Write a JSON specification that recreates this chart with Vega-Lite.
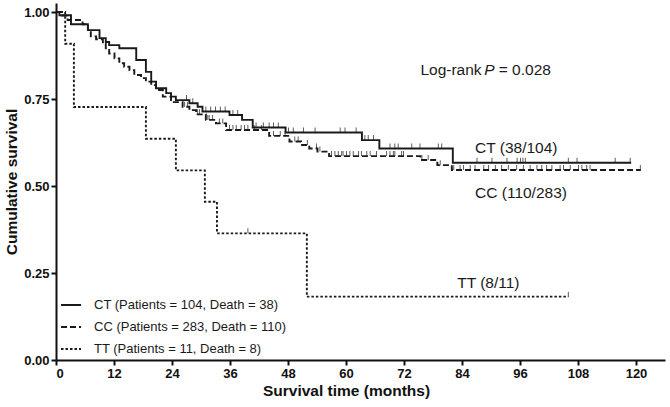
{
  "$schema": "https://vega.github.io/schema/vega-lite/v6.json",
  "width": 609,
  "height": 357,
  "autosize": {"type": "none"},
  "padding": {"left": 56, "top": 3, "right": 5, "bottom": 47},
  "background": "white",
  "config": {
    "view": {"stroke": null},
    "font": "Liberation Sans",
    "axis": {
      "grid": false,
      "domainColor": "#111",
      "domainWidth": 2,
      "tickColor": "#111",
      "tickWidth": 2,
      "tickSize": 5,
      "labelFont": "Liberation Sans",
      "labelFontWeight": "bold",
      "labelFontSize": 13,
      "labelColor": "#111",
      "titleFont": "Liberation Sans",
      "titleFontWeight": "bold",
      "titleFontSize": 15.5,
      "titleColor": "#111"
    }
  },
  "datasets": {
    "steps": [
      {"group": "CT", "t": 0, "s": 1.0},
      {"group": "CT", "t": 0.7, "s": 0.991},
      {"group": "CT", "t": 3.1, "s": 0.965},
      {"group": "CT", "t": 6.6, "s": 0.948},
      {"group": "CT", "t": 9.0, "s": 0.925},
      {"group": "CT", "t": 10.3, "s": 0.914},
      {"group": "CT", "t": 11.0, "s": 0.905},
      {"group": "CT", "t": 13.1, "s": 0.896},
      {"group": "CT", "t": 16.6, "s": 0.862},
      {"group": "CT", "t": 18.6, "s": 0.828},
      {"group": "CT", "t": 19.7, "s": 0.8},
      {"group": "CT", "t": 20.7, "s": 0.781},
      {"group": "CT", "t": 22.8, "s": 0.767},
      {"group": "CT", "t": 23.8, "s": 0.757},
      {"group": "CT", "t": 24.8, "s": 0.747},
      {"group": "CT", "t": 27.6, "s": 0.738},
      {"group": "CT", "t": 29.3, "s": 0.728},
      {"group": "CT", "t": 30.3, "s": 0.714},
      {"group": "CT", "t": 35.9, "s": 0.704},
      {"group": "CT", "t": 38.5, "s": 0.69},
      {"group": "CT", "t": 40.7, "s": 0.668},
      {"group": "CT", "t": 47.5, "s": 0.654},
      {"group": "CT", "t": 63.3, "s": 0.632},
      {"group": "CT", "t": 66.9, "s": 0.608},
      {"group": "CT", "t": 82.1, "s": 0.567},
      {"group": "CT", "t": 119, "s": 0.567},
      {"group": "CC", "t": 0, "s": 1.0},
      {"group": "CC", "t": 1.2, "s": 0.99},
      {"group": "CC", "t": 2.4, "s": 0.977},
      {"group": "CC", "t": 5.5, "s": 0.965},
      {"group": "CC", "t": 6.6, "s": 0.948},
      {"group": "CC", "t": 7.2, "s": 0.93},
      {"group": "CC", "t": 8.3, "s": 0.922},
      {"group": "CC", "t": 9.7, "s": 0.91},
      {"group": "CC", "t": 10.3, "s": 0.896},
      {"group": "CC", "t": 11.0, "s": 0.881},
      {"group": "CC", "t": 12.1, "s": 0.867},
      {"group": "CC", "t": 13.1, "s": 0.853},
      {"group": "CC", "t": 14.1, "s": 0.843},
      {"group": "CC", "t": 15.2, "s": 0.833},
      {"group": "CC", "t": 16.2, "s": 0.819},
      {"group": "CC", "t": 17.6, "s": 0.81},
      {"group": "CC", "t": 18.6, "s": 0.8},
      {"group": "CC", "t": 19.7, "s": 0.79},
      {"group": "CC", "t": 20.7, "s": 0.776},
      {"group": "CC", "t": 22.1, "s": 0.757},
      {"group": "CC", "t": 23.8, "s": 0.741},
      {"group": "CC", "t": 26.2, "s": 0.728},
      {"group": "CC", "t": 27.6, "s": 0.718},
      {"group": "CC", "t": 29.0, "s": 0.706},
      {"group": "CC", "t": 31.0, "s": 0.69},
      {"group": "CC", "t": 33.1, "s": 0.68},
      {"group": "CC", "t": 35.2, "s": 0.661},
      {"group": "CC", "t": 44.1, "s": 0.644},
      {"group": "CC", "t": 48.3, "s": 0.628},
      {"group": "CC", "t": 50.7, "s": 0.618},
      {"group": "CC", "t": 52.4, "s": 0.608},
      {"group": "CC", "t": 54.1, "s": 0.599},
      {"group": "CC", "t": 56.5, "s": 0.586},
      {"group": "CC", "t": 75.4, "s": 0.575},
      {"group": "CC", "t": 78.9, "s": 0.56},
      {"group": "CC", "t": 81.9, "s": 0.546},
      {"group": "CC", "t": 121, "s": 0.546},
      {"group": "TT", "t": 0, "s": 1.0},
      {"group": "TT", "t": 1.9, "s": 0.909},
      {"group": "TT", "t": 3.7, "s": 0.727},
      {"group": "TT", "t": 18.6, "s": 0.636},
      {"group": "TT", "t": 24.8, "s": 0.545},
      {"group": "TT", "t": 30.8, "s": 0.455},
      {"group": "TT", "t": 33.3, "s": 0.364},
      {"group": "TT", "t": 51.9, "s": 0.182},
      {"group": "TT", "t": 106, "s": 0.182}
    ],
    "censor": [
      {"group": "CT", "t": 27.0, "s": 0.747},
      {"group": "CT", "t": 28.3, "s": 0.738},
      {"group": "CT", "t": 31.0, "s": 0.714},
      {"group": "CT", "t": 32.0, "s": 0.714},
      {"group": "CT", "t": 33.0, "s": 0.714},
      {"group": "CT", "t": 34.0, "s": 0.714},
      {"group": "CT", "t": 35.0, "s": 0.714},
      {"group": "CT", "t": 36.6, "s": 0.704},
      {"group": "CT", "t": 37.6, "s": 0.704},
      {"group": "CT", "t": 41.4, "s": 0.668},
      {"group": "CT", "t": 42.9, "s": 0.668},
      {"group": "CT", "t": 44.1, "s": 0.668},
      {"group": "CT", "t": 45.0, "s": 0.668},
      {"group": "CT", "t": 46.0, "s": 0.668},
      {"group": "CT", "t": 48.1, "s": 0.654},
      {"group": "CT", "t": 49.1, "s": 0.654},
      {"group": "CT", "t": 51.2, "s": 0.654},
      {"group": "CT", "t": 53.6, "s": 0.654},
      {"group": "CT", "t": 58.8, "s": 0.654},
      {"group": "CT", "t": 59.8, "s": 0.654},
      {"group": "CT", "t": 62.1, "s": 0.654},
      {"group": "CT", "t": 63.9, "s": 0.632},
      {"group": "CT", "t": 64.6, "s": 0.632},
      {"group": "CT", "t": 65.7, "s": 0.632},
      {"group": "CT", "t": 69.1, "s": 0.608},
      {"group": "CT", "t": 70.1, "s": 0.608},
      {"group": "CT", "t": 70.8, "s": 0.608},
      {"group": "CT", "t": 73.6, "s": 0.608},
      {"group": "CT", "t": 75.3, "s": 0.608},
      {"group": "CT", "t": 79.1, "s": 0.608},
      {"group": "CT", "t": 79.8, "s": 0.608},
      {"group": "CT", "t": 87.1, "s": 0.567},
      {"group": "CT", "t": 90.2, "s": 0.567},
      {"group": "CT", "t": 93.3, "s": 0.567},
      {"group": "CT", "t": 95.4, "s": 0.567},
      {"group": "CT", "t": 96.1, "s": 0.567},
      {"group": "CT", "t": 96.6, "s": 0.567},
      {"group": "CT", "t": 97.1, "s": 0.567},
      {"group": "CT", "t": 106, "s": 0.567},
      {"group": "CT", "t": 107.8, "s": 0.567},
      {"group": "CT", "t": 115.7, "s": 0.567},
      {"group": "CT", "t": 118.8, "s": 0.567},
      {"group": "CC", "t": 26.6, "s": 0.728},
      {"group": "CC", "t": 27.2, "s": 0.728},
      {"group": "CC", "t": 29.3, "s": 0.706},
      {"group": "CC", "t": 29.7, "s": 0.706},
      {"group": "CC", "t": 31.4, "s": 0.69},
      {"group": "CC", "t": 31.7, "s": 0.69},
      {"group": "CC", "t": 32.4, "s": 0.69},
      {"group": "CC", "t": 33.8, "s": 0.68},
      {"group": "CC", "t": 34.5, "s": 0.68},
      {"group": "CC", "t": 35.9, "s": 0.661},
      {"group": "CC", "t": 36.6, "s": 0.661},
      {"group": "CC", "t": 37.3, "s": 0.661},
      {"group": "CC", "t": 38.3, "s": 0.661},
      {"group": "CC", "t": 39.0, "s": 0.661},
      {"group": "CC", "t": 39.7, "s": 0.661},
      {"group": "CC", "t": 41.0, "s": 0.661},
      {"group": "CC", "t": 42.5, "s": 0.661},
      {"group": "CC", "t": 45.0, "s": 0.644},
      {"group": "CC", "t": 46.4, "s": 0.644},
      {"group": "CC", "t": 47.4, "s": 0.644},
      {"group": "CC", "t": 49.4, "s": 0.628},
      {"group": "CC", "t": 50.1, "s": 0.628},
      {"group": "CC", "t": 52.0, "s": 0.618},
      {"group": "CC", "t": 53.9, "s": 0.608},
      {"group": "CC", "t": 54.6, "s": 0.599},
      {"group": "CC", "t": 57.0, "s": 0.586},
      {"group": "CC", "t": 57.7, "s": 0.586},
      {"group": "CC", "t": 58.4, "s": 0.586},
      {"group": "CC", "t": 59.1, "s": 0.586},
      {"group": "CC", "t": 59.4, "s": 0.586},
      {"group": "CC", "t": 60.1, "s": 0.586},
      {"group": "CC", "t": 60.8, "s": 0.586},
      {"group": "CC", "t": 61.5, "s": 0.586},
      {"group": "CC", "t": 62.6, "s": 0.586},
      {"group": "CC", "t": 63.2, "s": 0.586},
      {"group": "CC", "t": 64.3, "s": 0.586},
      {"group": "CC", "t": 65.0, "s": 0.586},
      {"group": "CC", "t": 66.3, "s": 0.586},
      {"group": "CC", "t": 68.4, "s": 0.586},
      {"group": "CC", "t": 69.1, "s": 0.586},
      {"group": "CC", "t": 69.8, "s": 0.586},
      {"group": "CC", "t": 70.1, "s": 0.586},
      {"group": "CC", "t": 71.5, "s": 0.586},
      {"group": "CC", "t": 71.9, "s": 0.586},
      {"group": "CC", "t": 75.7, "s": 0.575},
      {"group": "CC", "t": 77.0, "s": 0.575},
      {"group": "CC", "t": 79.5, "s": 0.56},
      {"group": "CC", "t": 82.3, "s": 0.546},
      {"group": "CC", "t": 83.6, "s": 0.546},
      {"group": "CC", "t": 84.3, "s": 0.546},
      {"group": "CC", "t": 85.7, "s": 0.546},
      {"group": "CC", "t": 86.7, "s": 0.546},
      {"group": "CC", "t": 88.5, "s": 0.546},
      {"group": "CC", "t": 89.5, "s": 0.546},
      {"group": "CC", "t": 90.9, "s": 0.546},
      {"group": "CC", "t": 92.2, "s": 0.546},
      {"group": "CC", "t": 93.6, "s": 0.546},
      {"group": "CC", "t": 95.3, "s": 0.546},
      {"group": "CC", "t": 96.7, "s": 0.546},
      {"group": "CC", "t": 98.1, "s": 0.546},
      {"group": "CC", "t": 99.5, "s": 0.546},
      {"group": "CC", "t": 100.5, "s": 0.546},
      {"group": "CC", "t": 101.5, "s": 0.546},
      {"group": "CC", "t": 102.6, "s": 0.546},
      {"group": "CC", "t": 104.3, "s": 0.546},
      {"group": "CC", "t": 105.0, "s": 0.546},
      {"group": "CC", "t": 106.4, "s": 0.546},
      {"group": "CC", "t": 108.1, "s": 0.546},
      {"group": "CC", "t": 108.8, "s": 0.546},
      {"group": "CC", "t": 109.8, "s": 0.546},
      {"group": "CC", "t": 110.5, "s": 0.546},
      {"group": "CC", "t": 120.9, "s": 0.546},
      {"group": "TT", "t": 39.7, "s": 0.364},
      {"group": "TT", "t": 106, "s": 0.182}
    ],
    "notes": [
      {"t": 75.4, "s": 0.833, "label": "Log-rank"},
      {"t": 91.6, "s": 0.833, "label": "= 0.028"},
      {"t": 86.7, "s": 0.609, "label": "CT (38/104)"},
      {"t": 86.7, "s": 0.48, "label": "CC (110/283)"},
      {"t": 83.0, "s": 0.221, "label": "TT (8/11)"}
    ],
    "italic": [
      {"t": 88.6, "s": 0.833, "label": "P"}
    ]
  },
  "layer": [
    {
      "data": {"name": "steps"},
      "mark": {"type": "line", "interpolate": "step-after", "strokeWidth": 1.9, "color": "#1a1a1a"},
      "encoding": {
        "x": {
          "field": "t", "type": "quantitative",
          "scale": {"domain": [0, 126], "nice": false, "zero": false},
          "axis": {"values": [0, 12, 24, 36, 48, 60, 72, 84, 96, 108, 120], "title": "Survival time (months)", "labelPadding": 2, "titlePadding": 3, "titleX": 290, "titleAnchor": "middle"}
        },
        "y": {
          "field": "s", "type": "quantitative",
          "scale": {"domain": [0, 1.026], "nice": false, "zero": false},
          "axis": {"values": [0, 0.25, 0.5, 0.75, 1.0], "format": ".2f", "title": "Cumulative survival", "labelPadding": 2, "titlePadding": 4}
        },
        "strokeDash": {
          "field": "group", "type": "nominal",
          "scale": {"domain": ["CT", "CC", "TT"], "range": [[1, 0], [6, 3], [2.5, 2]]},
          "legend": {
            "title": null,
            "orient": "bottom-left",
            "offset": 4,
            "symbolType": "stroke",
            "symbolSize": 400,
            "symbolStrokeWidth": 2,
            "symbolStrokeColor": "#1a1a1a",
            "labelFont": "Liberation Sans",
            "labelFontSize": 13,
            "labelColor": "#1a1a1a",
            "labelLimit": 0,
            "labelOffset": 12,
            "rowPadding": 4,
            "labelExpr": "datum.label === 'CT' ? 'CT (Patients = 104, Death = 38)' : datum.label === 'CC' ? 'CC (Patients = 283, Death = 110)' : 'TT (Patients = 11, Death = 8)'"
          }
        },
        "detail": {"field": "group"}
      }
    },
    {
      "data": {"name": "censor"},
      "mark": {"type": "tick", "orient": "vertical", "size": 5, "thickness": 1, "yOffset": -2.5, "color": "#1a1a1a"},
      "encoding": {
        "x": {"field": "t", "type": "quantitative"},
        "y": {"field": "s", "type": "quantitative"}
      }
    },
    {
      "data": {"name": "notes"},
      "mark": {"type": "text", "align": "left", "baseline": "middle", "fontSize": 15.5, "font": "Liberation Sans", "color": "#1a1a1a"},
      "encoding": {
        "x": {"field": "t", "type": "quantitative"},
        "y": {"field": "s", "type": "quantitative"},
        "text": {"field": "label"}
      }
    },
    {
      "data": {"name": "italic"},
      "mark": {"type": "text", "align": "left", "baseline": "middle", "fontSize": 15.5, "fontStyle": "italic", "font": "Liberation Sans", "color": "#1a1a1a"},
      "encoding": {
        "x": {"field": "t", "type": "quantitative"},
        "y": {"field": "s", "type": "quantitative"},
        "text": {"field": "label"}
      }
    }
  ]
}
